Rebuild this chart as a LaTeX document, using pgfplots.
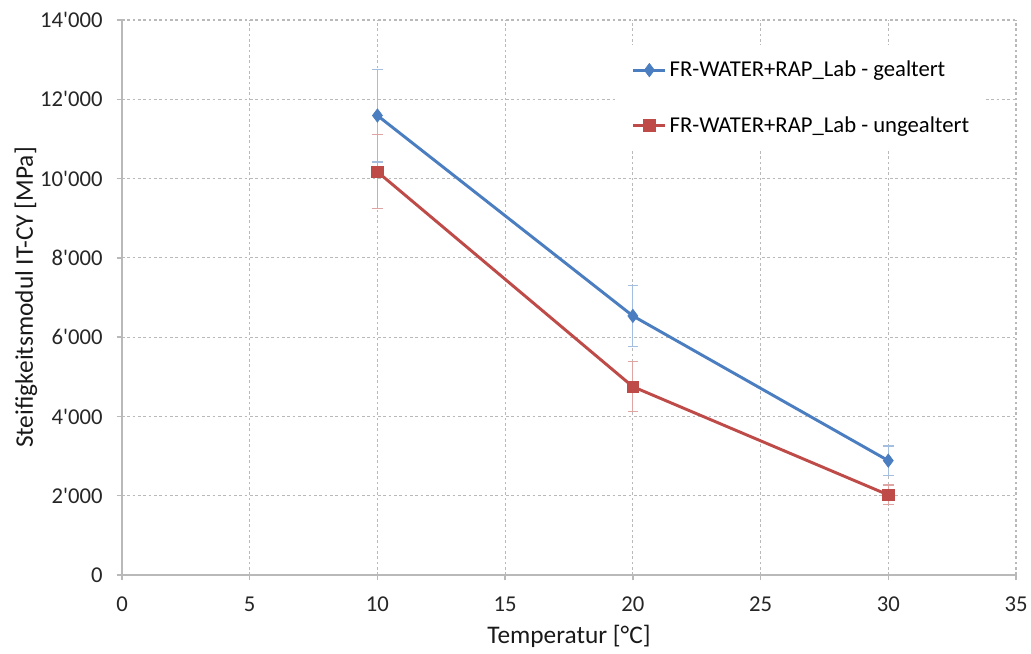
\documentclass[border=0pt]{standalone}
\usepackage{pgfplots}
\pgfplotsset{compat=1.18}
\usepackage{fontspec}
\setmainfont{Carlito}
\definecolor{cblue}{RGB}{74,126,193}
\definecolor{cred}{RGB}{190,75,72}
\definecolor{cgrid}{RGB}{185,185,185}
\definecolor{caxis}{RGB}{185,185,185}
\begin{document}
\begin{tikzpicture}
\useasboundingbox (-91.5pt,-58.5pt) rectangle (681.75pt,431.25pt);
\begin{axis}[
  scale only axis,
  width=670.5pt, height=416.25pt,
  at={(0,0)}, anchor=south west,
  xmin=0, xmax=35, ymin=0, ymax=14000,
  xtick={0,5,...,35},
  ytick={0,2000,...,14000},
  axis x line*=bottom, axis y line*=left,
  axis line style={caxis, line width=1.4pt, -},
  tick style={caxis, line width=1.1pt},
  tick align=outside,
  major tick length=4pt,
  grid=major,
  major grid style={cgrid, line width=0.8pt, dash pattern=on 2pt off 2pt},
  /pgf/number format/assume math mode=true,
  /pgf/number format/1000 sep={\textquotesingle},
  scaled y ticks=false,
  ticklabel style={font=\fontsize{17}{19}\selectfont, text=black!85},
  yticklabel style={xshift=-7pt},
  xticklabel style={yshift=-9pt},
  xlabel={Temperatur [°C]},
  ylabel={Steifigkeitsmodul IT-CY [MPa]},
  label style={font=\fontsize{19}{21}\selectfont, text=black!90},
  xlabel style={at={(axis description cs:0.5,0)}, anchor=center, yshift=-46pt},
  ylabel style={at={(axis description cs:0,0.5)}, anchor=center, yshift=72pt},
  legend style={at={(0.555,0.955)}, anchor=north west, draw=none, fill=white,
    font=\fontsize{17}{19}\selectfont, row sep=24pt, inner xsep=10pt, inner ysep=10pt},
  legend cell align=left,
  legend image code/.code={
    \draw[#1] (0cm,0cm) -- (0.85cm,0cm);
    \draw[#1, mark repeat=2, mark phase=2] plot coordinates {(0cm,0cm) (0.425cm,0cm) (0.85cm,0cm)};
  },
  clip=false,
]
\addplot[cblue, line width=2.2pt, mark=diamond*, mark size=5pt, mark options={fill=cblue, solid, line width=0.5pt},
  error bars/.cd, y dir=both, y explicit,
  error bar style={cblue!50, line width=0.9pt},
  error mark options={rotate=90, mark size=4pt, cblue!50, line width=0.9pt}]
  coordinates {
  (10,11590) +- (0,1170)
  (20,6535) +- (0,770)
  (30,2885) +- (0,370)
};
\addlegendentry{FR-WATER+RAP\_Lab - gealtert}
\addplot[cred, line width=2.2pt, mark=square*, mark size=4.3pt, mark options={fill=cred, solid, line width=0.5pt},
  error bars/.cd, y dir=both, y explicit,
  error bar style={cred!50, line width=0.9pt},
  error mark options={rotate=90, mark size=4pt, cred!50, line width=0.9pt}]
  coordinates {
  (10,10170) +- (0,935)
  (20,4750) +- (0,630)
  (30,2020) +- (0,250)
};
\addlegendentry{FR-WATER+RAP\_Lab - ungealtert}
\end{axis}
\end{tikzpicture}
\end{document}
